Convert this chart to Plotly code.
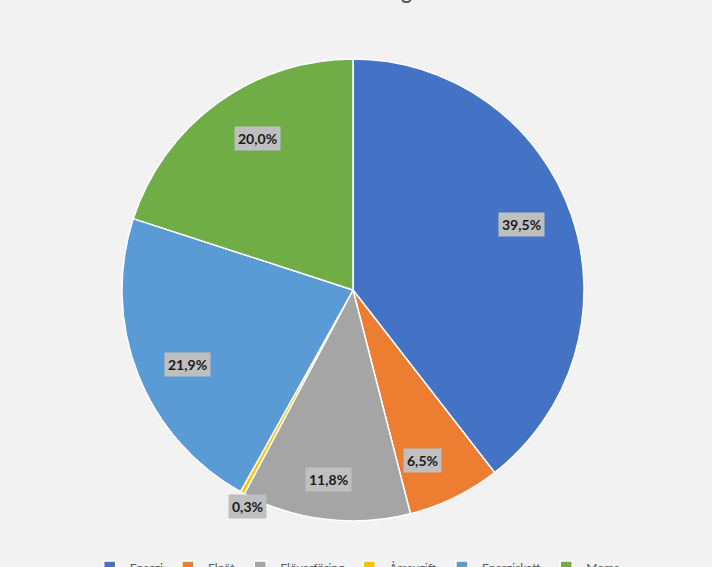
import math
import plotly.graph_objects as go

# Kostnadsposter och andel (%)
labels = ["Energi", "Elnät", "Elöverföring", "Årsavgift", "Energiskatt", "Moms"]
shares = [39.5, 6.5, 11.8, 0.3, 21.9, 20.0]
text_labels = ["39,5%", "6,5%", "11,8%", "0,3%", "21,9%", "20,0%"]
colors = ["#4472C4", "#ED7D31", "#A5A5A5", "#FFC000", "#5B9BD5", "#70AD47"]

fig = go.Figure(go.Pie(
    labels=labels,
    values=shares,
    sort=False,
    direction="clockwise",
    rotation=0,
    marker=dict(colors=colors, line=dict(color="white", width=1.5)),
    textinfo="none",
    hoverinfo="label+percent",
    domain=dict(x=[0, 1], y=[0, 1]),
))

# datalabels in grey boxes, placed at the slice mid-angle (Excel style "inside end")
total = sum(shares)
cum = 0
for val, txt in zip(shares, text_labels):
    mid = (cum + val / 2) / total * 2 * math.pi
    cum += val
    r = 0.88 if val / total > 0.02 else 1.13
    fig.add_annotation(
        x=0.5 + 0.5 * r * math.sin(mid),
        y=0.5 + 0.5 * r * math.cos(mid),
        xref="paper", yref="paper",
        text="<b>" + txt + "</b>",
        showarrow=False,
        font=dict(family="Lato, Arial", size=14, color="#1a1a1a"),
        bgcolor="#BFBFBF",
        borderpad=3,
    )

# title sits mostly above the window, as in the source picture
fig.add_annotation(
    x=0.537, y=1.147, xref="paper", yref="paper",
    xanchor="center", yanchor="middle",
    text="<b>Elräkning</b>",
    showarrow=False,
    font=dict(family="Lato, Arial", size=20, color="#595959"),
)

fig.update_layout(
    width=712,
    height=567,
    paper_bgcolor="#F2F2F2",
    plot_bgcolor="#F2F2F2",
    margin=dict(l=122, r=128, t=59, b=46, autoexpand=False),
    showlegend=True,
    legend=dict(
        orientation="h",
        x=-0.07, xanchor="left",
        y=-0.068, yanchor="top",
        font=dict(family="Lato, Arial", size=12, color="#595959"),
        itemwidth=30,
        bgcolor="rgba(0,0,0,0)",
    ),
)

# page margin off so the chart sits flush in the window
fig.write_html("out.html", config={"displayModeBar": False},
               post_script="document.body.style.margin='0';")
